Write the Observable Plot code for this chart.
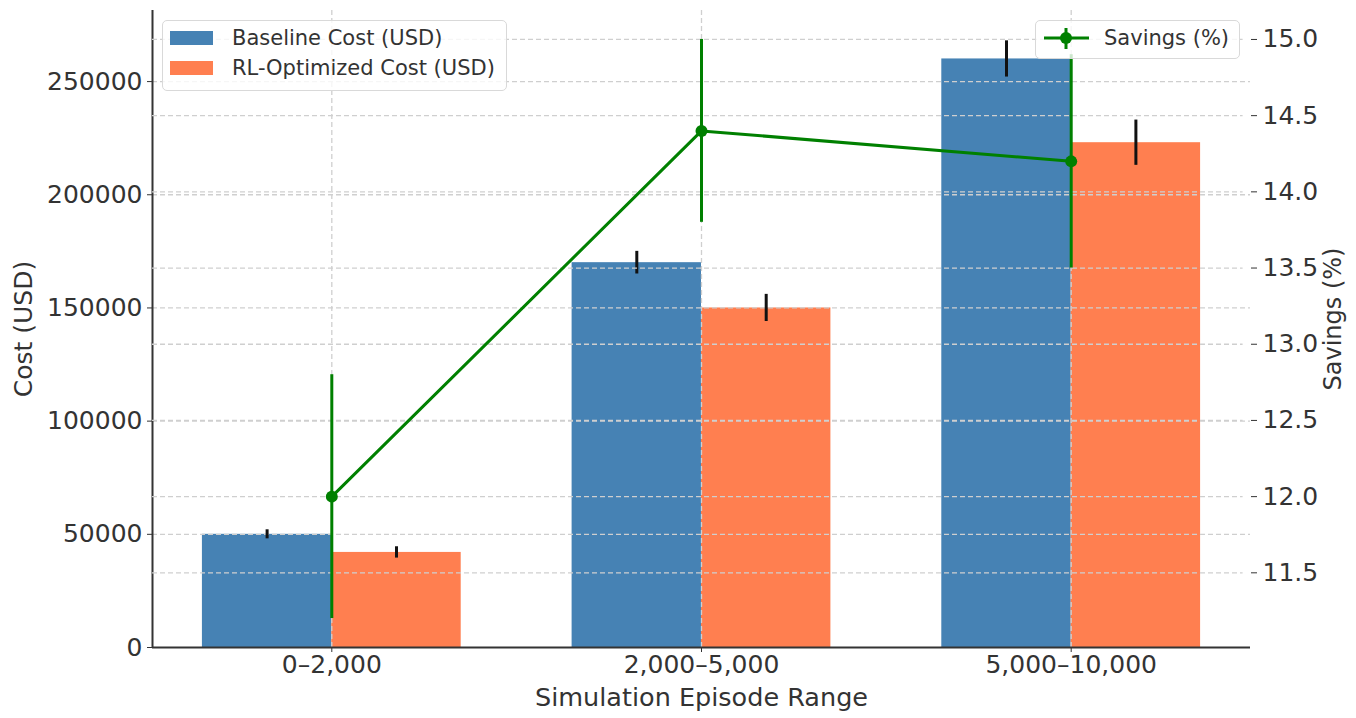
<!DOCTYPE html>
<html>
<head>
<meta charset="utf-8">
<script src="https://cdn.jsdelivr.net/npm/d3@7"></script>
<script src="https://cdn.jsdelivr.net/npm/@observablehq/plot@0.6"></script>
<style>
  html, body { margin: 0; padding: 0; background: #fff; }
  #wrap { position: relative; width: 1356px; height: 718px; font-family: "DejaVu Sans", sans-serif; color: #333; }
  #wrap svg { position: absolute; left: 0; top: 0; }
  .legend { position: absolute; background: rgba(255,255,255,0.8); border: 1.5px solid #d9d9d9; border-radius: 5px; box-sizing: border-box; font-size: 21px; color: #333; }
  .sw { position: absolute; width: 43px; height: 14px; }
  .lbl { position: absolute; white-space: nowrap; line-height: 30px; }
</style>
</head>
<body>
<div id="wrap"></div>
<script>
// ---- data ----
const categories = ["0–2,000", "2,000–5,000", "5,000–10,000"];
const baselineCost = [50000, 170000, 260000];
const baselineErr = [2000, 5000, 8000];
const optimizedCost = [42000, 150000, 223000];
const optimizedErr = [2500, 6000, 10000];
const savingsPct = [12.0, 14.4, 14.2];
const savingsErr = [0.8, 0.6, 0.7];
const costTicks = [0, 50000, 100000, 150000, 200000, 250000];
const savingsTicks = [11.5, 12.0, 12.5, 13.0, 13.5, 14.0, 14.5, 15.0];

// ---- layout ----
const W = 1356, H = 718;
const margins = {marginLeft: 152, marginRight: 106, marginTop: 10, marginBottom: 71};
const barW = 0.35;
const xDomain = [-0.485, 2.485];
const costDomain = [0, 281400];
const savDomain = [11.01, 15.19];
const BLUE = "#4682B4", ORANGE = "#FF7F50", GREEN = "#008000";
const GRID = "#cfcfcf";
const font = {fontFamily: "DejaVu Sans, sans-serif", fontSize: "25px", color: "#333", background: "transparent", overflow: "visible"};

const idx = categories.map((_, i) => i);
const bars = [
  ...idx.map(i => ({i, x1: i - barW, x2: i, v: baselineCost[i], e: baselineErr[i], c: BLUE})),
  ...idx.map(i => ({i, x1: i, x2: i + barW, v: optimizedCost[i], e: optimizedErr[i], c: ORANGE}))
];
const sav = idx.map(i => ({i, v: savingsPct[i], e: savingsErr[i]}));

const p1 = Plot.plot({
  width: W, height: H, ...margins,
  style: font,
  x: {type: "linear", domain: xDomain, axis: null},
  y: {domain: costDomain, axis: null},
  marks: [
    Plot.rectY(bars, {x1: "x1", x2: "x2", y1: 0, y2: "v", fill: "c"}),
    Plot.gridY(costTicks.slice(1), {stroke: GRID, strokeOpacity: 1, strokeWidth: 1.3, strokeDasharray: "5,3"}),
    Plot.gridX(idx, {stroke: GRID, strokeOpacity: 1, strokeWidth: 1.3, strokeDasharray: "5,3"}),
    Plot.ruleX(bars, {x: d => (d.x1 + d.x2) / 2, y1: d => d.v - d.e, y2: d => d.v + d.e, stroke: "#111", strokeWidth: 3}),
    Plot.ruleY([costDomain[0]], {stroke: "#333", strokeWidth: 2}),
    Plot.ruleX([xDomain[0]], {stroke: "#333", strokeWidth: 2}),
    Plot.axisY(costTicks, {anchor: "left", tickSize: 5, tickPadding: 5, fontSize: 25, tickFormat: d => String(d), label: null, stroke: "#333"}),
    Plot.axisX(idx, {anchor: "bottom", tickSize: 5, tickPadding: 3, fontSize: 25, tickFormat: i => categories[i], label: null, stroke: "#333"}),
    Plot.text(["Cost (USD)"], {frameAnchor: "left", dx: -129, rotate: -90, textAnchor: "middle", fontSize: 25, fill: "#333"}),
    Plot.text(["Simulation Episode Range"], {frameAnchor: "bottom", dy: 50, textAnchor: "middle", fontSize: 25.5, fill: "#333", lineAnchor: "middle"})
  ]
});

const p2 = Plot.plot({
  width: W, height: H, ...margins,
  style: font,
  x: {type: "linear", domain: xDomain, axis: null},
  y: {domain: savDomain, axis: null},
  marks: [
    Plot.gridY(savingsTicks, {stroke: GRID, strokeOpacity: 1, strokeWidth: 1.3, strokeDasharray: "5,3", x1: xDomain[0], x2: 2.465}),
    Plot.ruleX(sav, {x: "i", y1: d => d.v - d.e, y2: d => d.v + d.e, stroke: GREEN, strokeWidth: 3}),
    Plot.line(sav, {x: "i", y: "v", stroke: GREEN, strokeWidth: 3}),
    Plot.dot(sav, {x: "i", y: "v", r: 6, fill: GREEN, stroke: "none"}),
    Plot.axisY(savingsTicks, {anchor: "right", tickSize: 6, tickPadding: 6, fontSize: 25, tickFormat: d3.format(".1f"), label: null, stroke: "#333"}),
    Plot.text(["Savings (%)"], {frameAnchor: "right", dx: 83, dy: -10, rotate: -90, textAnchor: "middle", lineAnchor: "middle", fontSize: 24, fill: "#333"})
  ]
});

const wrap = document.getElementById("wrap");
wrap.appendChild(p1);
wrap.appendChild(p2);

// legends
function legendBox(left, top, w, h) {
  const d = document.createElement("div");
  d.className = "legend";
  Object.assign(d.style, {left: left + "px", top: top + "px", width: w + "px", height: h + "px"});
  wrap.appendChild(d);
  return d;
}
const l1 = legendBox(162, 20, 345, 71);
[["Baseline Cost (USD)", BLUE], ["RL-Optimized Cost (USD)", ORANGE]].forEach(([t, c], k) => {
  const sw = document.createElement("div");
  sw.className = "sw";
  Object.assign(sw.style, {left: "7px", top: (10 + k * 30) + "px", background: c});
  l1.appendChild(sw);
  const lb = document.createElement("div");
  lb.className = "lbl";
  Object.assign(lb.style, {left: "69px", top: (2 + k * 30) + "px"});
  lb.textContent = t;
  l1.appendChild(lb);
});
const l2 = legendBox(1035, 20, 205, 39);
l2.innerHTML = `<svg width="60" height="36" style="position:absolute;left:0;top:0">
  <line x1="8" x2="53" y1="17" y2="17" stroke="${GREEN}" stroke-width="3"/>
  <line x1="30" x2="30" y1="7" y2="28" stroke="${GREEN}" stroke-width="3"/>
  <circle cx="30" cy="17" r="6" fill="${GREEN}"/></svg>
  <div class="lbl" style="left:68px;top:2px">Savings (%)</div>`;
</script>
</body>
</html>
